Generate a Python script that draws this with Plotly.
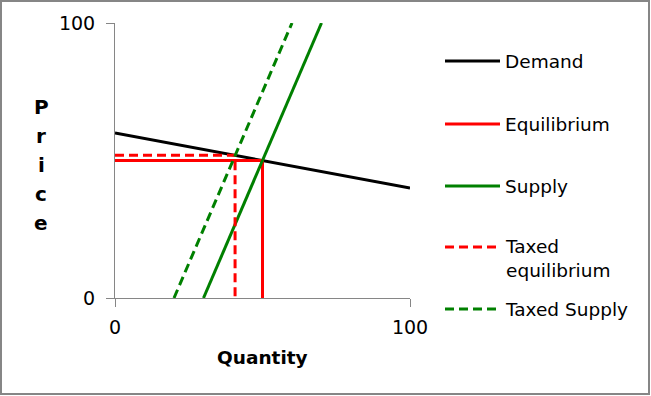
import plotly.graph_objects as go

# ---- data ----
demand_q = [0, 10, 20, 30, 40, 50, 60, 70, 80, 90, 100]
demand_p = [60, 58, 56, 54, 52, 50, 48, 46, 44, 42, 40]
supply_q = [30, 70]
supply_p = [0, 100]
taxed_supply_q = [20, 60]
taxed_supply_p = [0, 100]
equil_q = [0, 50, 50]
equil_p = [50, 50, 0]
taxed_equil_q = [0, 40.7, 40.7]
taxed_equil_p = [51.9, 51.9, 0]
tick_vals = [0, 100]

series = [
    ("Demand", demand_q, demand_p, "black", "solid"),
    ("Equilibrium", equil_q, equil_p, "#ff0000", "solid"),
    ("Supply", supply_q, supply_p, "#008000", "solid"),
    ("Taxed<br>equilibrium", taxed_equil_q, taxed_equil_p, "#ff0000", "9px,5px"),
    ("Taxed Supply", taxed_supply_q, taxed_supply_p, "#008000", "9px,5px"),
]

W, H = 651, 396
L, R, T, B = 115, 410, 23, 298
pw, ph = R - L, B - T

def px(x):
    return (x - L) / pw

def py(y):
    return (B - y) / ph

FONT = "DejaVu Sans"
fig = go.Figure()
for name, q, p, c, d in series:
    fig.add_trace(go.Scatter(x=q, y=p, mode="lines", name=name,
                             line=dict(color=c, width=3, dash=d),
                             showlegend=False, hoverinfo="skip"))

shapes = []
annotations = []
# border
shapes.append(dict(type="rect", xref="paper", yref="paper",
                   x0=px(1), x1=px(649), y0=py(394), y1=py(1),
                   line=dict(color="#868686", width=2), fillcolor="rgba(0,0,0,0)"))
# manual legend
leg_y = [61, 124, 186, 247, 309]
text_y = [61, 124, 186, 258.5, 309]
for (name, q, p, c, d), ly, ty in zip(series, leg_y, text_y):
    shapes.append(dict(type="line", xref="paper", yref="paper",
                       x0=px(445), x1=px(500), y0=py(ly), y1=py(ly),
                       line=dict(color=c, width=3, dash=d)))
    annotations.append(dict(x=px(503), y=py(ty), xref="paper", yref="paper",
                            text=name, showarrow=False, xanchor="left",
                            yanchor="middle", align="left",
                            font=dict(family=FONT, size=18.5, color="black")))
# y-axis title, stacked letters
for i, ch in enumerate("Price"):
    annotations.append(dict(x=px(41), y=py(107 + i * 29), xref="paper", yref="paper",
                            text="<b>%s</b>" % ch, showarrow=False,
                            xanchor="center", yanchor="middle",
                            font=dict(family=FONT, size=20, color="black")))
# x-axis title
annotations.append(dict(x=px(262), y=py(357), xref="paper", yref="paper",
                        text="<b>Quantity</b>", showarrow=False,
                        xanchor="center", yanchor="middle",
                        font=dict(family=FONT, size=18.5, color="black")))

axis_common = dict(range=[0, 100], tickvals=tick_vals, showgrid=False,
                   zeroline=False, showline=True, linecolor="#868686", linewidth=1,
                   ticks="outside", ticklen=8, tickcolor="#868686",
                   tickfont=dict(family=FONT, size=19, color="black"))

fig.update_layout(
    width=W, height=H,
    margin=dict(l=L, r=W - R, t=T, b=H - B),
    paper_bgcolor="white", plot_bgcolor="white",
    xaxis=dict(**axis_common, ticklabelstandoff=4),
    yaxis=dict(**axis_common, ticklabelstandoff=7),
    shapes=shapes, annotations=annotations,
    showlegend=False,
)
fig.write_html("out.html", config={"displayModeBar": False},
               post_script="document.body.style.margin='0px';document.body.style.padding='0px';")
